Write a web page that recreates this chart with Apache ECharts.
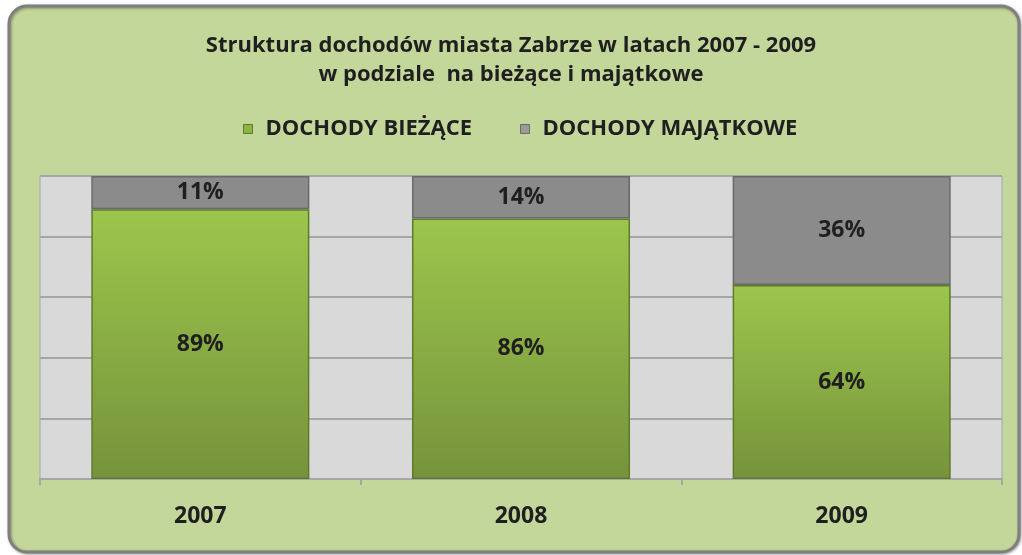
<!DOCTYPE html>
<html>
<head>
<meta charset="utf-8">
<script src="https://cdn.jsdelivr.net/npm/echarts@6/dist/echarts.min.js"></script>
<style>
  html, body { margin: 0; padding: 0; background: #fff; }
  #chart { width: 1022px; height: 555px; }
</style>
</head>
<body>
<div id="chart"></div>
<script>
  // dane
  var years = ['2007', '2008', '2009'];
  var biezace = [89, 86, 64];
  var majatkowe = [11, 14, 36];

  var font = '"Open Sans", Lato, sans-serif';
  var txt = '#1f1f1f';
  var chart = echarts.init(document.getElementById('chart'));

  var barLabel = {
    show: true,
    position: 'inside',
    formatter: '{c}%',
    fontFamily: font,
    fontSize: 23,
    fontWeight: 'bold',
    color: txt
  };

  chart.setOption({
    animation: false,
    textStyle: { fontFamily: font },
    graphic: [{
      type: 'rect',
      z: -10,
      shape: { x: 9, y: 6, width: 1010, height: 546, r: 18 },
      style: {
        fill: '#c4d79b',
        stroke: '#7f7f7f',
        lineWidth: 3,
        shadowBlur: 3,
        shadowColor: 'rgba(0,0,0,0.35)',
        shadowOffsetX: 1,
        shadowOffsetY: 1
      }
    }],
    title: {
      text: 'Struktura dochodów miasta Zabrze w latach 2007 - 2009\nw podziale  na bieżące i majątkowe',
      left: 'center',
      top: 26,
      padding: [5, 0, 5, 18],
      textStyle: {
        fontFamily: font,
        fontSize: 22,
        fontWeight: 'bold',
        color: txt,
        lineHeight: 29
      }
    },
    legend: {
      top: 113,
      left: 238,
      padding: 5,
      itemGap: 48,
      itemWidth: 9,
      itemHeight: 9,
      icon: 'rect',
      textStyle: {
        fontFamily: font,
        fontSize: 22,
        fontWeight: 'bold',
        color: txt,
        padding: [0, 0, 0, 8]
      },
      data: [
        { name: 'DOCHODY BIEŻĄCE', itemStyle: { color: '#8db543', borderColor: '#5e7a2c', borderWidth: 1 } },
        { name: 'DOCHODY MAJĄTKOWE', itemStyle: { color: '#9a9a9a', borderColor: '#6a6a6a', borderWidth: 1 } }
      ]
    },
    grid: {
      left: 40,
      right: 20,
      top: 176,
      bottom: 76,
      show: true,
      backgroundColor: '#d9d9d9',
      borderColor: '#a6a6a6',
      borderWidth: 1
    },
    xAxis: {
      type: 'category',
      data: years,
      axisLine: { lineStyle: { color: '#a6a6a6', width: 2 } },
      axisTick: { show: true, length: 6, lineStyle: { color: '#a6a6a6', width: 2 } },
      axisLabel: {
        margin: 26,
        fontFamily: font,
        fontSize: 23,
        fontWeight: 'bold',
        color: txt
      }
    },
    yAxis: {
      type: 'value',
      min: 0,
      max: 100,
      interval: 20,
      axisLabel: { show: false },
      axisLine: { show: false },
      axisTick: { show: false },
      splitLine: { lineStyle: { color: '#a6a6a6', width: 2 } }
    },
    series: [
      {
        name: 'DOCHODY BIEŻĄCE',
        type: 'bar',
        stack: 'd',
        barWidth: '68%',
        data: biezace,
        itemStyle: {
          color: new echarts.graphic.LinearGradient(0, 0, 0, 1, [
            { offset: 0, color: '#9cc64c' },
            { offset: 1, color: '#76933b' }
          ]),
          borderColor: '#5e7a2c',
          borderWidth: 1.5
        },
        label: barLabel
      },
      {
        name: 'DOCHODY MAJĄTKOWE',
        type: 'bar',
        stack: 'd',
        barWidth: '68%',
        data: majatkowe,
        itemStyle: {
          color: '#8b8b8b',
          borderColor: '#6a6a6a',
          borderWidth: 1.5
        },
        label: barLabel
      }
    ]
  });
</script>
</body>
</html>
